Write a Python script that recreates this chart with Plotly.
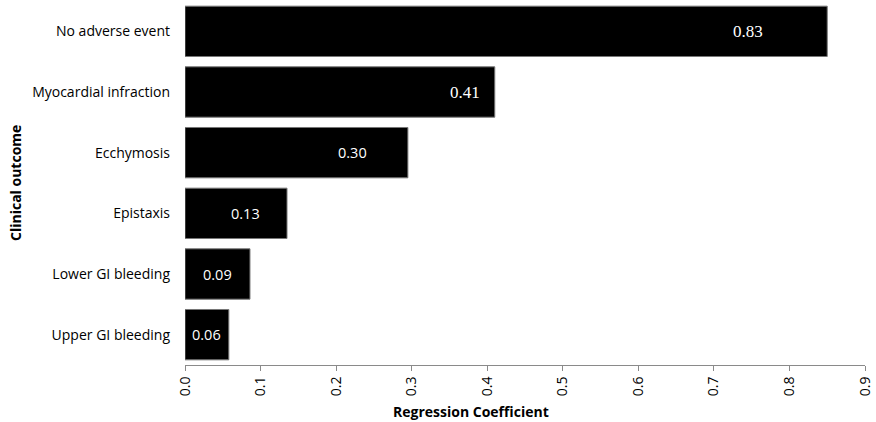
import plotly.graph_objects as go

categories = ["No adverse event", "Myocardial infraction", "Ecchymosis",
              "Epistaxis", "Lower GI bleeding", "Upper GI bleeding"]
values = [0.85, 0.41, 0.295, 0.135, 0.086, 0.058]
value_labels = ["0.83", "0.41", "0.30", "0.13", "0.09", "0.06"]
label_x = [0.745, 0.37, 0.222, 0.08, 0.043, 0.029]
label_serif = [True, True, False, False, False, False]
tick_vals = [0.0, 0.1, 0.2, 0.3, 0.4, 0.5, 0.6, 0.7, 0.8, 0.9]
tick_text = ["0.0", "0.1", "0.2", "0.3", "0.4", "0.5", "0.6", "0.7", "0.8", "0.9"]

L, R, T, B = 185, 11, 1, 57
W, H = 876, 422
PW, PH = W - L - R, H - T - B

fig = go.Figure()
fig.add_trace(go.Bar(
    x=values, y=categories, orientation="h",
    marker=dict(color="black", line=dict(color="#777777", width=1)),
    hoverinfo="x+y",
))

for c, lx, t, s in zip(categories, label_x, value_labels, label_serif):
    fnt = dict(family="Liberation Serif, Times New Roman, serif", size=17, color="white") if s else \
        dict(family="Open Sans", size=14.5, color="white")
    fig.add_annotation(x=lx, y=c, xref="x", yref="y", text=t, showarrow=False, font=fnt)

fig.add_annotation(x=(471 - L) / PW, y=-(411 - (H - B)) / PH, xref="paper", yref="paper",
                   text="<b>Regression Coefficient</b>", showarrow=False,
                   xanchor="center", yanchor="middle",
                   font=dict(family="Open Sans", size=14, color="black"))
fig.add_annotation(x=-(L - 15) / PW, y=0.5, xref="paper", yref="paper",
                   text="<b>Clinical outcome</b>", showarrow=False, textangle=-90,
                   xanchor="center", yanchor="middle",
                   font=dict(family="Open Sans", size=14, color="black"))

fig.update_layout(
    width=W, height=H,
    margin=dict(l=L, r=R, t=T, b=B, autoexpand=False),
    paper_bgcolor="white", plot_bgcolor="white",
    bargap=0.17,
    showlegend=False,
    font=dict(family="Open Sans", size=14, color="black"),
)

fig.update_xaxes(
    range=[0, 0.9], tickvals=tick_vals, ticktext=tick_text, tickangle=-90,
    showgrid=False, zeroline=False, showline=True, linecolor="#8a8a8a", linewidth=1,
    ticks="outside", ticklen=5, tickcolor="#8a8a8a", automargin=False,
    tickfont=dict(family="Open Sans", size=14, color="black"),
)
fig.update_yaxes(
    categoryorder="array", categoryarray=categories[::-1],
    showgrid=False, zeroline=False, showline=False, ticks="",
    ticklabelstandoff=14, automargin=False,
    tickfont=dict(family="Open Sans", size=14, color="black"),
)

fig.write_html("out.html", config={"displayModeBar": False},
               post_script="document.body.style.margin='0';document.body.style.padding='0';")
